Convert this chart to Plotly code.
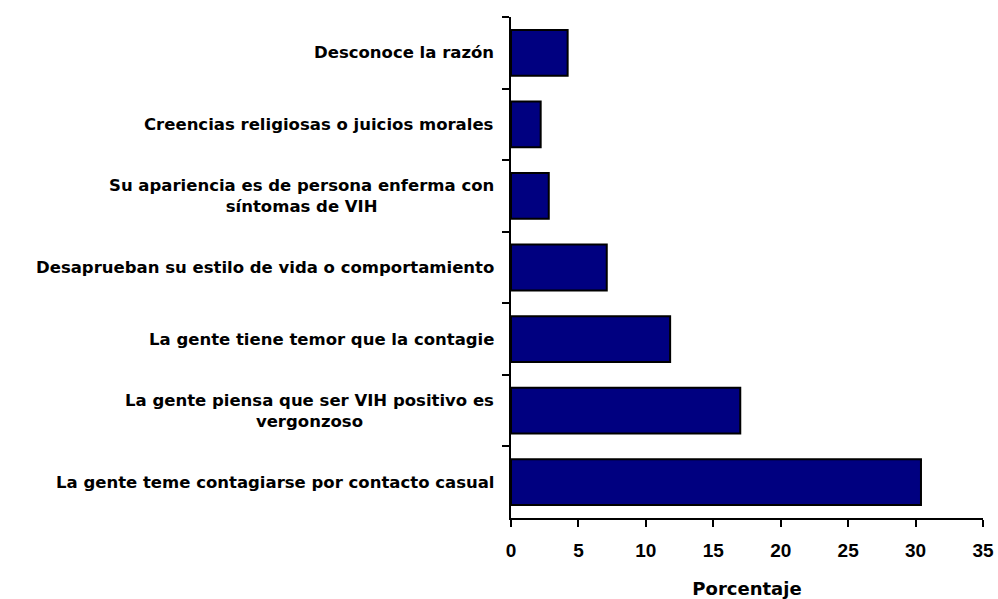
import plotly.graph_objects as go

# Reasons, listed from top to bottom of the chart
reasons = [
    "Desconoce la razón",
    "Creencias religiosas o juicios morales",
    "Su apariencia es de persona enferma con<br>síntomas de VIH",
    "Desaprueban su estilo de vida o comportamiento",
    "La gente tiene temor que la contagie",
    "La gente piensa que ser VIH positivo es<br>vergonzoso",
    "La gente teme contagiarse por contacto casual",
]
percent = [4.2, 2.2, 2.8, 7.1, 11.8, 17.0, 30.4]
x_ticks = [0, 5, 10, 15, 20, 25, 30, 35]

LABEL_FONT = dict(family="DejaVu Sans", size=16.5, color="#000000", weight="bold")
NUM_FONT = dict(family="Liberation Sans, Arial", size=19, color="#000000", weight="bold")

fig = go.Figure(
    go.Bar(
        x=percent,
        y=reasons,
        orientation="h",
        marker=dict(color="#000080", line=dict(color="#000000", width=2)),
        hoverinfo="x+y",
    )
)

# Category labels drawn as centred text blocks left of the axis
for name in reasons:
    fig.add_annotation(
        x=0, y=name, xref="x", yref="y",
        text=name, showarrow=False,
        xanchor="right", yanchor="middle", align="center",
        xshift=-15, font=LABEL_FONT,
    )

fig.update_layout(
    width=998, height=599,
    margin=dict(l=511, r=15, t=17, b=81, autoexpand=False),
    paper_bgcolor="white", plot_bgcolor="white",
    bargap=0.36,
    showlegend=False,
)

fig.update_xaxes(
    range=[0, 35], tickvals=x_ticks, ticktext=[str(v) for v in x_ticks],
    showline=True, linecolor="#000000", linewidth=2,
    ticks="outside", ticklen=7, tickwidth=2, tickcolor="#000000",
    tickfont=NUM_FONT, ticklabelstandoff=7,
    showgrid=False, zeroline=False,
    title=dict(text="Porcentaje", font=dict(family="DejaVu Sans", size=18, color="#000000", weight="bold"), standoff=25),
    automargin=False, fixedrange=True,
)

fig.update_yaxes(
    type="category", autorange="reversed",
    showline=True, linecolor="#000000", linewidth=2,
    ticks="outside", tickson="boundaries", ticklen=7, tickwidth=2, tickcolor="#000000",
    showticklabels=False, showgrid=False, zeroline=False,
    automargin=False, fixedrange=True,
)

fig.write_html("out.html")
